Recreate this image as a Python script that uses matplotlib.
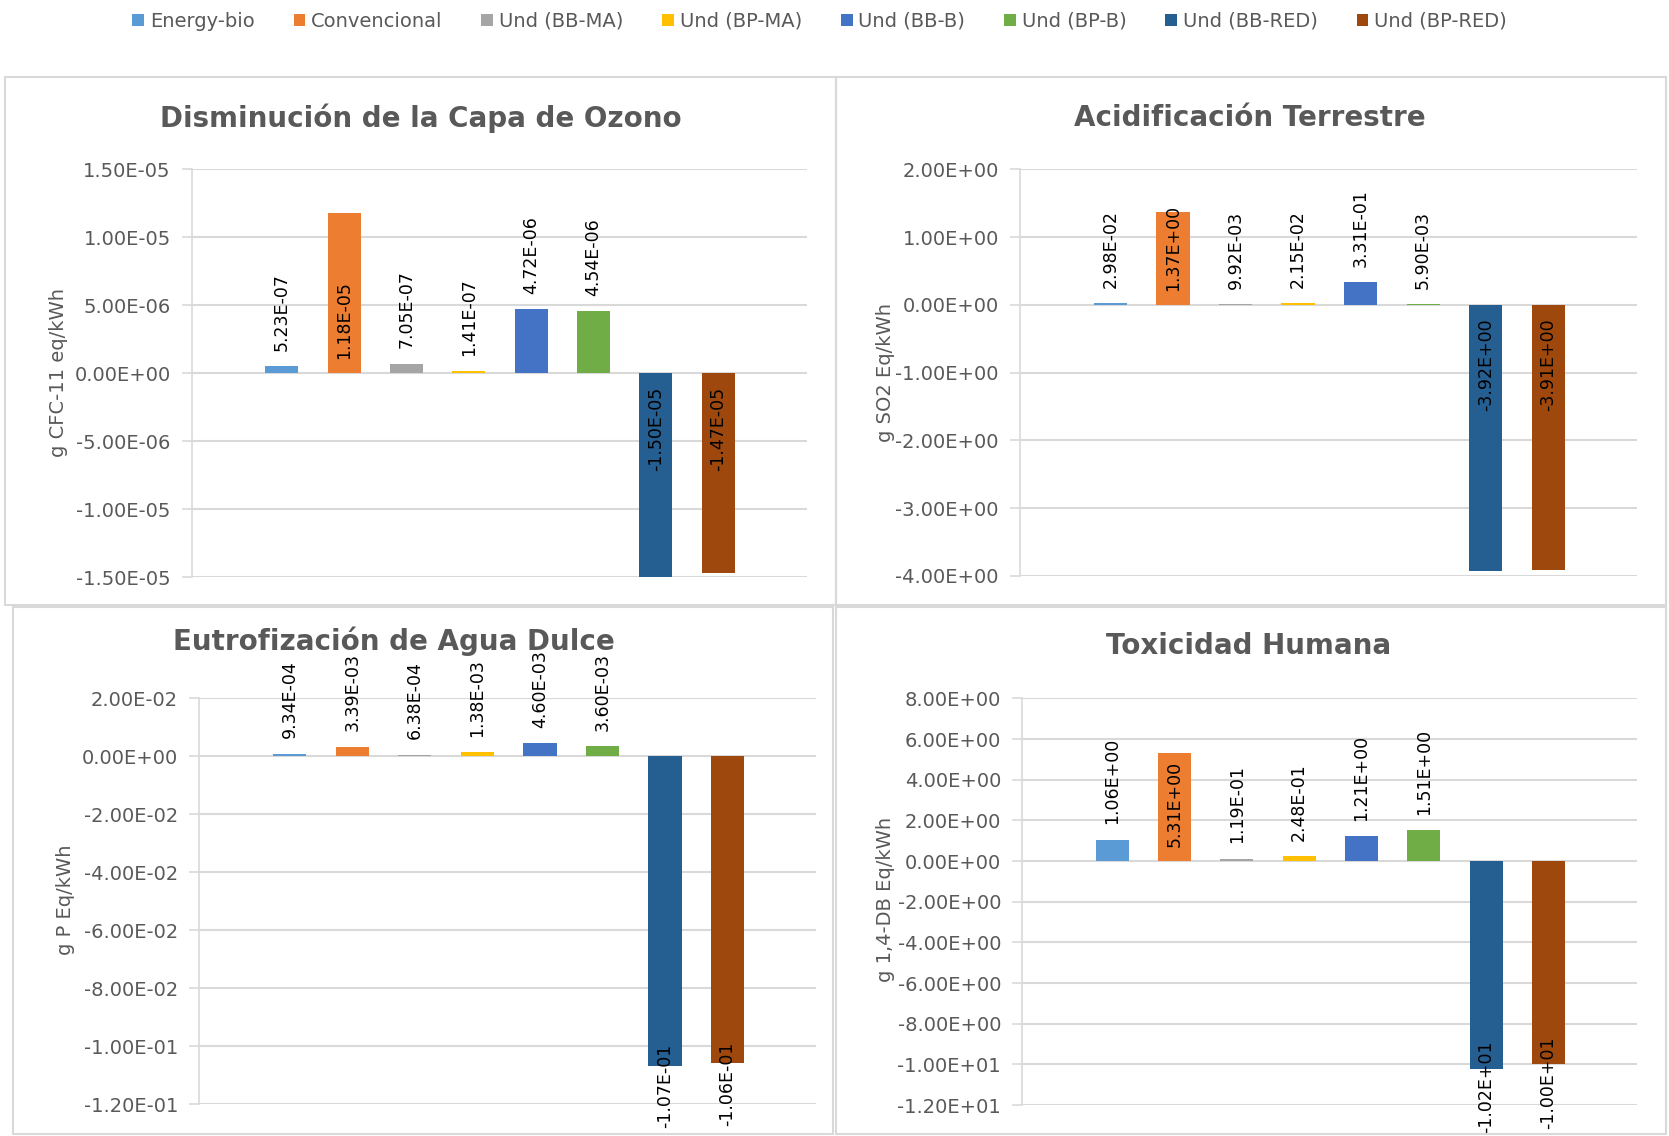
import matplotlib
matplotlib.use("Agg")
import matplotlib.pyplot as plt
from matplotlib.patches import Rectangle, Patch

series = ["Energy-bio", "Convencional", "Und (BB-MA)", "Und (BP-MA)",
          "Und (BB-B)", "Und (BP-B)", "Und (BB-RED)", "Und (BP-RED)"]
colors = ["#5B9BD5", "#ED7D31", "#A5A5A5", "#FFC000",
          "#4472C4", "#70AD47", "#255E91", "#9E480E"]

titles = ["Disminución de la Capa de Ozono", "Acidificación Terrestre",
          "Eutrofización de Agua Dulce", "Toxicidad Humana"]
ylabels = ["g CFC-11 eq/kWh", "g SO2 Eq/kWh", "g P Eq/kWh", "g 1,4-DB Eq/kWh"]

ozono = [5.23e-7, 1.18e-5, 7.05e-7, 1.41e-7, 4.72e-6, 4.54e-6, -1.50e-5, -1.47e-5]
acidif = [2.98e-2, 1.37, 9.92e-3, 2.15e-2, 3.31e-1, 5.90e-3, -3.92, -3.91]
eutrof = [9.34e-4, 3.39e-3, 6.38e-4, 1.38e-3, 4.60e-3, 3.60e-3, -1.07e-1, -1.06e-1]
toxic = [1.06, 5.31, 1.19e-1, 2.48e-1, 1.21, 1.51, -10.2, -10.0]

yranges = [(-1.5e-5, 1.5e-5, 5e-6), (-4.0, 2.0, 1.0), (-0.12, 0.02, 0.02), (-12.0, 8.0, 2.0)]

# where the data label sits: out = past bar end, base = inside from zero, end = across bar end
label_pos = [
    ["out", "base", "out", "out", "out", "out", "base", "base"],
    ["out", "base", "out", "out", "out", "out", "base", "base"],
    ["out", "out", "out", "out", "out", "out", "end", "end"],
    ["out", "base", "out", "out", "out", "out", "end", "end"],
]
end_shift = [0, 0, 16, 20]  # points the "end" labels reach back into the bar

W, H = 1568.0, 1067.0  # layout measured on the shrunk reference
axes_px = [(180, 758, 159, 542), (958, 1538, 159, 541),
           (187, 767, 656, 1037), (960, 1538, 656, 1038)]
panels_px = [(5, 785, 72, 568), (785, 1565, 72, 568),
             (12, 783, 570, 1065), (785, 1565, 570, 1065)]
title_px = [(395, 111), (1174, 111), (370, 602), (1173, 607)]
ylab_px = [(55, 350), (832, 350), (62, 845), (832, 845)]

gray = "#595959"

fig = plt.figure(figsize=(16.69, 11.36), dpi=100)

for (x0, x1, y0, y1) in panels_px:
    fig.patches.append(Rectangle((x0 / W, 1 - y1 / H), (x1 - x0) / W, (y1 - y0) / H,
                                 transform=fig.transFigure, fill=False,
                                 edgecolor="#D9D9D9", lw=1.5))

data = [ozono, acidif, eutrof, toxic]
for i, vals in enumerate(data):
    x0, x1, y0, y1 = axes_px[i]
    ax = fig.add_axes([x0 / W, 1 - y1 / H, (x1 - x0) / W, (y1 - y0) / H])
    xs = list(range(len(vals)))
    ax.bar(xs, vals, width=0.53, color=colors, zorder=3)
    lo, hi, step = yranges[i]
    ax.set_ylim(lo, hi)
    ax.set_xlim(-1.45, 8.42)
    n = int(round((hi - lo) / step))
    ticks = []
    for k in range(n + 1):
        t = lo + k * step
        ticks.append(0.0 if abs(t) < step * 1e-6 else t)
    ax.set_yticks(ticks)
    ax.set_yticklabels([f"{t:.2E}" for t in ticks], fontsize=14, color=gray)
    ax.set_xticks([])
    ax.grid(axis="y", color="#D9D9D9", lw=1.5, zorder=0)
    for s in ["top", "right", "bottom"]:
        ax.spines[s].set_visible(False)
    ax.spines["left"].set_color("#D9D9D9")
    ax.spines["left"].set_linewidth(1.2)
    ax.tick_params(axis="y", length=7, color="#D9D9D9", width=1.2, pad=8)

    for x, v, mode in zip(xs, vals, label_pos[i]):
        txt = f"{v:.2E}"
        if mode == "out":
            y, dy, va = v, 11, "bottom"
        elif mode == "base":
            y, dy, va = 0, (10 if v > 0 else -10), ("bottom" if v > 0 else "top")
        else:
            y, dy, va = v, end_shift[i], "top"
        ax.annotate(txt, (x, y), xytext=(0, dy), textcoords="offset points",
                    rotation=90, ha="center", va=va, fontsize=12.5,
                    color="black", annotation_clip=False, zorder=5)

    tx, ty = title_px[i]
    fig.text(tx / W, 1 - ty / H, titles[i], ha="center", va="center",
             fontsize=20, fontweight="bold", color=gray)
    lx, ly = ylab_px[i]
    fig.text(lx / W, 1 - ly / H, ylabels[i], ha="center", va="center",
             rotation=90, fontsize=14, color=gray)

handles = [Patch(facecolor=c) for c in colors]
fig.legend(handles, series, loc="center", bbox_to_anchor=(770 / W, 1 - 20 / H),
           ncol=8, frameon=False, handlelength=0.6, handleheight=0.6,
           handletextpad=0.3, columnspacing=2.0,
           prop={"size": 14}, labelcolor=gray)

fig.savefig("out.png", dpi=100)
